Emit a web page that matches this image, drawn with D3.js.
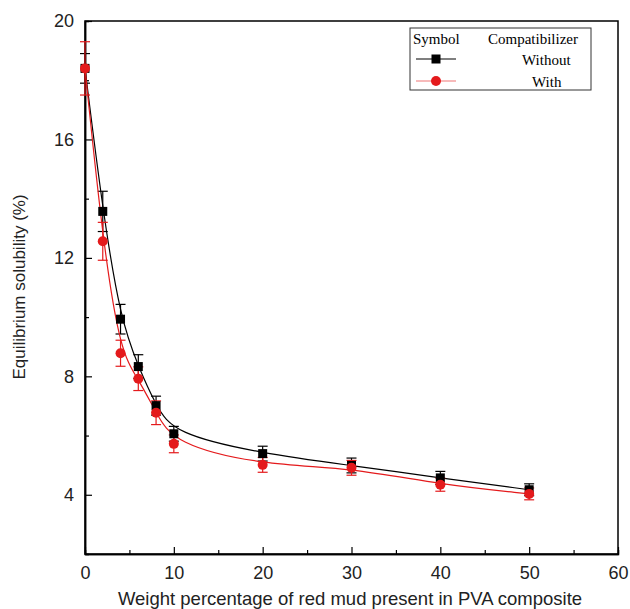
<!DOCTYPE html>
<html>
<head>
<meta charset="utf-8">
<script src="https://cdn.jsdelivr.net/npm/d3@7"></script>
<style>
  body { margin: 0; background: #fff; }
  svg { display: block; }
</style>
</head>
<body>
<svg id="chart" width="630" height="609"></svg>
<script>
// data
var loading = [0, 2, 4, 6, 8, 10, 20, 30, 40, 50];
var without = [18.4, 13.57, 9.93, 8.33, 7.01, 6.06, 5.39, 4.99, 4.57, 4.17];
var withC = [18.4, 12.56, 8.78, 7.92, 6.77, 5.72, 5.01, 4.91, 4.34, 4.03];
var withoutErr = [0.5, 0.68, 0.5, 0.4, 0.32, 0.25, 0.25, 0.25, 0.22, 0.2];
var withErr = [0.9, 0.64, 0.44, 0.4, 0.4, 0.3, 0.25, 0.25, 0.22, 0.2];
var xTicks = [0, 10, 20, 30, 40, 50, 60];
var yTicks = [4, 8, 12, 16, 20];

var svg = d3.select("#chart");
var mLeft = 85, mRight = 618, mTop = 21, mBottom = 554;

var x = d3.scaleLinear().domain([0, 60]).range([mLeft, mRight]);
var y = d3.scaleLinear().domain([2, 20]).range([mBottom, mTop]);

var red = "#e41a1c";

// frame
svg.append("rect")
    .attr("x", mLeft).attr("y", mTop)
    .attr("width", mRight - mLeft).attr("height", mBottom - mTop)
    .attr("fill", "none").attr("stroke", "#000").attr("stroke-width", 1.5);

// axes with inward ticks
svg.append("g")
    .attr("transform", "translate(0," + mBottom + ")")
    .call(d3.axisBottom(x).tickValues(xTicks).tickSizeInner(-7).tickSizeOuter(0).tickPadding(12));
svg.append("g")
    .attr("transform", "translate(0," + mBottom + ")")
    .call(d3.axisBottom(x).tickValues(d3.range(5, 60, 10)).tickSize(-4).tickFormat(""));

svg.append("g")
    .attr("transform", "translate(" + mLeft + ",0)")
    .call(d3.axisLeft(y).tickValues(yTicks).tickSizeInner(-7).tickSizeOuter(0).tickPadding(11));
svg.append("g")
    .attr("transform", "translate(" + mLeft + ",0)")
    .call(d3.axisLeft(y).tickValues([6, 10, 14, 18]).tickSize(-4).tickFormat(""));

svg.selectAll(".domain").attr("stroke", "#000").attr("stroke-width", 1.5);
svg.selectAll(".tick line").attr("stroke", "#000").attr("stroke-width", 1.2);
svg.selectAll(".tick text")
    .attr("font-family", "Liberation Sans, Arial, sans-serif")
    .attr("font-size", 18).attr("fill", "#222");

// axis titles
svg.append("text")
    .attr("x", 350).attr("y", 605)
    .attr("text-anchor", "middle")
    .attr("font-family", "Liberation Sans, Arial, sans-serif")
    .attr("font-size", 18.5).attr("fill", "#222")
    .text("Weight percentage of red mud present in PVA composite");

svg.append("text")
    .attr("transform", "translate(25,287) rotate(-90)")
    .attr("text-anchor", "middle")
    .attr("font-family", "Liberation Sans, Arial, sans-serif")
    .attr("font-size", 17).attr("fill", "#222")
    .text("Equilibrium solubility (%)");

var series = [
    { name: "Without", vals: without, err: withoutErr, color: "#000", shape: "square" },
    { name: "With", vals: withC, err: withErr, color: red, shape: "circle" }
];

// smooth fitted-looking curve
var line = d3.line()
    .x(function (d) { return x(d[0]); })
    .y(function (d) { return y(d[1]); })
    .curve(d3.curveBasis);

var plot = svg.append("g");

series.forEach(function (s) {
    var pts = loading.map(function (v, i) { return [v, s.vals[i], s.err[i]]; });

    plot.append("path")
        .datum(pts)
        .attr("d", line)
        .attr("fill", "none")
        .attr("stroke", s.color)
        .attr("stroke-width", 1.2);

    var eb = plot.append("g").selectAll("g")
        .data(pts)
        .enter().append("g");
    eb.append("line")
        .attr("x1", function (d) { return x(d[0]); })
        .attr("x2", function (d) { return x(d[0]); })
        .attr("y1", function (d) { return y(d[1] - d[2]); })
        .attr("y2", function (d) { return y(d[1] + d[2]); })
        .attr("stroke", s.color).attr("stroke-width", 1.2);
    [-1, 1].forEach(function (sign) {
        eb.append("line")
            .attr("x1", function (d) { return x(d[0]) - 5; })
            .attr("x2", function (d) { return x(d[0]) + 5; })
            .attr("y1", function (d) { return y(d[1] + sign * d[2]); })
            .attr("y2", function (d) { return y(d[1] + sign * d[2]); })
            .attr("stroke", s.color).attr("stroke-width", 1.2);
    });
});

// markers drawn on top
plot.append("g").selectAll("rect")
    .data(loading.map(function (v, i) { return [v, without[i]]; }))
    .enter().append("rect")
    .attr("x", function (d) { return x(d[0]) - 4.5; })
    .attr("y", function (d) { return y(d[1]) - 4.5; })
    .attr("width", 9).attr("height", 9)
    .attr("fill", "#000");

plot.append("g").selectAll("circle")
    .data(loading.map(function (v, i) { return [v, withC[i]]; }))
    .enter().append("circle")
    .attr("cx", function (d) { return x(d[0]); })
    .attr("cy", function (d) { return y(d[1]); })
    .attr("r", 5)
    .attr("fill", red);

// legend
var lg = svg.append("g").attr("font-family", "Liberation Serif, Times New Roman, serif").attr("font-size", 15).attr("fill", "#000");
lg.append("rect")
    .attr("x", 410).attr("y", 28).attr("width", 181).attr("height", 62)
    .attr("fill", "#fff").attr("stroke", "#333").attr("stroke-width", 1);
lg.append("text").attr("x", 413).attr("y", 44).text("Symbol");
lg.append("text").attr("x", 488).attr("y", 44).text("Compatibilizer");

series.forEach(function (s, i) {
    var ly = 59 + i * 22;
    lg.append("line")
        .attr("x1", 416).attr("x2", 456).attr("y1", ly).attr("y2", ly)
        .attr("stroke", s.color).attr("stroke-width", 1.2)
        .attr("stroke-opacity", i === 1 ? 0.6 : 1);
    if (s.shape === "square") {
        lg.append("rect").attr("x", 431.5).attr("y", ly - 4.5).attr("width", 9).attr("height", 9).attr("fill", s.color);
    } else {
        lg.append("circle").attr("cx", 436).attr("cy", ly).attr("r", 5).attr("fill", s.color);
    }
    lg.append("text")
        .attr("x", i === 0 ? 522 : 532)
        .attr("y", ly + 6)
        .text(s.name);
});
</script>
</body>
</html>
